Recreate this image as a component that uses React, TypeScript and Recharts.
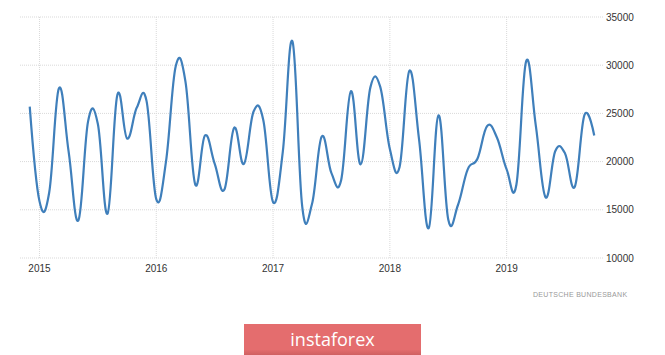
import React from "react";
import { LineChart, Line, XAxis, YAxis, CartesianGrid, ReferenceLine } from "recharts";

// Month index: Jan 2015 = 0; data runs Dec 2014 (-1) .. Oct 2019 (57)
const startIndex = -1;
const values: number[] = [
  25700, // Dec 2014
  15900, 16800, 27600, 21000, 13900, 24200, 23900, 14600, 26900, 22400, 25600, 26300, // 2015
  16100, 20000, 29900, 28300, 17650, 22700, 19800, 17100, 23500, 19750, 25200, 24300, // 2016
  15800, 21000, 32450, 15300, 15600, 22600, 18800, 18100, 27300, 19700, 27700, 27800, // 2017
  21300, 19450, 29400, 22300, 13100, 24800, 14000, 15500, 19200, 20300, 23700, 22500, // 2018
  19200, 17600, 30400, 23700, 16300, 21100, 20850, 17400, 24850, 22700, // 2019
];
const yearTicks = [0, 12, 24, 36, 48];
const yearLabels = ["2015", "2016", "2017", "2018", "2019"];
const valueTicks = [10000, 15000, 20000, 25000, 30000, 35000];
const xDomain: [number, number] = [-2, 57.9];

const data = values.map((v, k) => ({ m: startIndex + k, v }));

// Smooth spline (smoothing 1.5), drawn through every data point
function splineCurve(context: any) {
  let pts: number[][] = [];
  return {
    areaStart() {},
    areaEnd() {},
    lineStart() {
      pts = [];
    },
    point(x: number, y: number) {
      pts.push([+x, +y]);
    },
    lineEnd() {
      const n = pts.length;
      if (!n) return;
      const sm = 1.5;
      const den = sm + 1;
      const lc: (number[] | null)[] = [];
      const rc: (number[] | null)[] = [];
      for (let i = 0; i < n; i++) {
        if (i === 0 || i === n - 1) {
          lc.push(null);
          rc.push(null);
          continue;
        }
        const [px, py] = pts[i - 1];
        const [x, y] = pts[i];
        const [nx, ny] = pts[i + 1];
        const lcx = (sm * x + px) / den;
        let lcy = (sm * y + py) / den;
        const rcx = (sm * x + nx) / den;
        let rcy = (sm * y + ny) / den;
        if (rcx !== lcx) {
          const corr = ((rcy - lcy) * (rcx - x)) / (rcx - lcx) + y - rcy;
          lcy += corr;
          rcy += corr;
        }
        lc.push([lcx, lcy]);
        rc.push([rcx, rcy]);
      }
      context.moveTo(pts[0][0], pts[0][1]);
      for (let i = 1; i < n; i++) {
        const c1 = rc[i - 1] || pts[i - 1];
        const c2 = lc[i] || pts[i];
        context.bezierCurveTo(c1[0], c1[1], c2[0], c2[1], pts[i][0], pts[i][1]);
      }
    },
  };
}

export default function App() {
  return (
    <div style={{ position: "absolute", left: 0, top: 0, width: 665, height: 355, background: "#fff", overflow: "hidden" }}>
      <LineChart
        width={665}
        height={355}
        data={data}
        margin={{ top: 17, right: 0, left: 20, bottom: 67 }}
      >
        <CartesianGrid stroke="#d9d9d9" strokeDasharray="1 1" vertical={false} />
        {yearTicks.map((t) => (
          <ReferenceLine key={t} x={t} stroke="#d9d9d9" strokeDasharray="1 1" />
        ))}
        <XAxis
          dataKey="m"
          type="number"
          domain={xDomain}
          ticks={yearTicks}
          tickFormatter={(t: number) => yearLabels[yearTicks.indexOf(t)]}
          axisLine={false}
          tickLine={false}
          tickSize={0}
          tickMargin={7}
          height={30}
          tick={{ fill: "#333", fontSize: 10, fontFamily: "Liberation Sans, Arial, sans-serif" }}
        />
        <YAxis
          orientation="right"
          domain={[10000, 35000]}
          ticks={valueTicks}
          axisLine={false}
          tickLine={false}
          tickSize={0}
          tickMargin={3}
          width={62}
          tick={{ fill: "#333", fontSize: 10, fontFamily: "Liberation Sans, Arial, sans-serif", textAnchor: "start" }}
        />
        <Line
          type={splineCurve as any}
          dataKey="v"
          stroke="#3f7fbb"
          strokeWidth={2.2}
          dot={false}
          isAnimationActive={false}
        />
      </LineChart>
      <div
        style={{
          position: "absolute",
          left: 533,
          top: 291,
          fontFamily: "Liberation Sans, Arial, sans-serif",
          fontSize: 7,
          color: "#999",
          letterSpacing: 0.3,
          whiteSpace: "nowrap",
        }}
      >
        DEUTSCHE BUNDESBANK
      </div>
      <div
        style={{
          position: "absolute",
          left: 244,
          top: 324,
          width: 177,
          height: 31,
          background: "linear-gradient(#e46d6e 0%, #e46d6e 82%, #cf6061 100%)",
          color: "#fff",
          fontFamily: "Open Sans, sans-serif",
          fontSize: 18,
          lineHeight: "31px",
          textAlign: "center",
        }}
      >
        instaforex
      </div>
    </div>
  );
}
